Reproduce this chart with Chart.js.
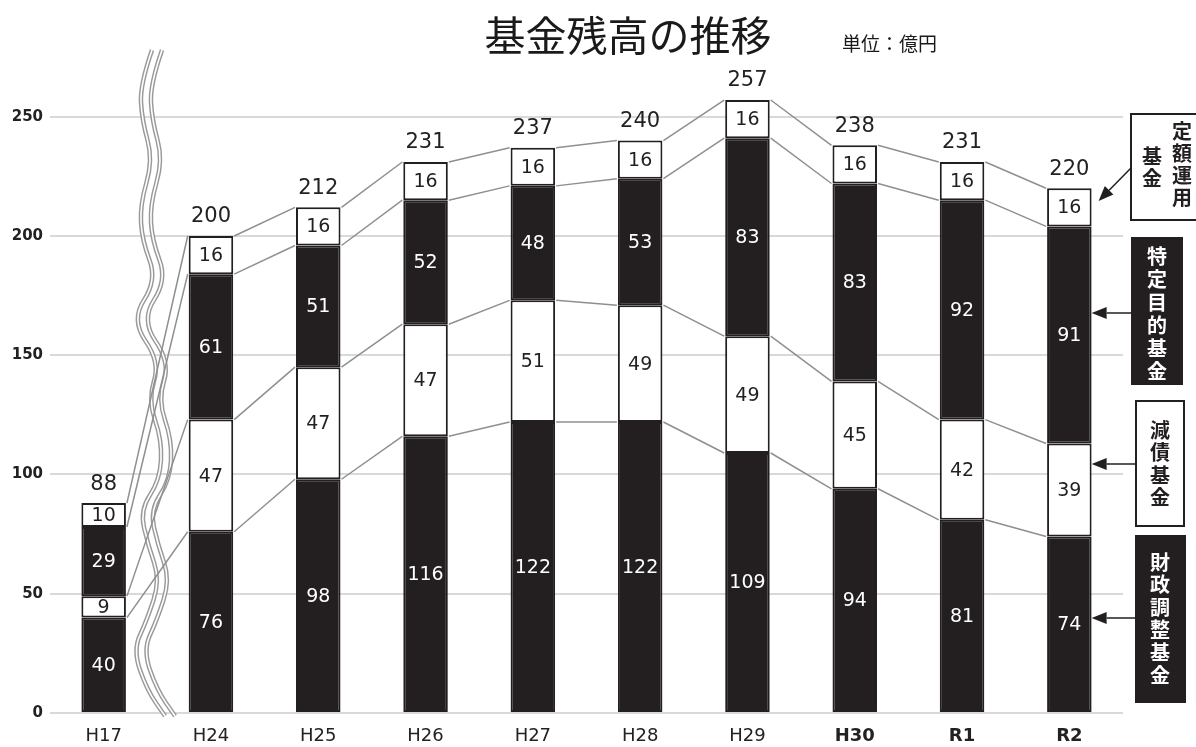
<!DOCTYPE html>
<html>
<head>
<meta charset="utf-8">
<script src="https://cdn.jsdelivr.net/npm/chart.js@4/dist/chart.umd.min.js"></script>
<style>
  html, body { margin: 0; padding: 0; background: #fff; }
  #wrap { width: 1196px; height: 747px; }
</style>
</head>
<body>
<div id="wrap"><canvas id="fundChart" width="1196" height="747"></canvas></div>
<script>
// 基金残高の推移 (単位：億円)
const categories = ['H17', 'H24', 'H25', 'H26', 'H27', 'H28', 'H29', 'H30', 'R1', 'R2'];
const zaiseiChosei = [40, 76, 98, 116, 122, 122, 109, 94, 81, 74];   // 財政調整基金
const gensai = [9, 47, 47, 47, 51, 49, 49, 45, 42, 39];               // 減債基金
const tokuteiMokuteki = [29, 61, 51, 52, 48, 53, 83, 83, 92, 91];     // 特定目的基金
const teigakuUnyo = [10, 16, 16, 16, 16, 16, 16, 16, 16, 16];         // 定額運用基金
const totals = [88, 200, 212, 231, 237, 240, 257, 238, 231, 220];
const seriesNames = ['財政調整基金', '減債基金', '特定目的基金', '定額運用基金'];
const yTicks = [0, 50, 100, 150, 200, 250];

const INK = '#231f20';
const LINE_GRAY = '#8f8f8f';
const NUM_FONT = '"DejaVu Sans", Verdana, sans-serif';
const JP_FONT = '"Noto Sans CJK JP", "Noto Sans", sans-serif';

// wavy break marks between H17 and H24 (decoration only)
const breakPath = [[152, 50], [140, 85], [142, 120], [153, 160], [140, 205], [142, 240], [157, 280],
  [131, 320], [160, 362], [148, 400], [162, 440], [160, 480], [140, 510], [148, 545], [160, 580],
  [147, 620], [133, 650], [147, 690], [165, 716]];

function smoothPath(ctx, pts, dx) {
  ctx.beginPath();
  ctx.moveTo(pts[0][0] + dx, pts[0][1]);
  for (let i = 1; i < pts.length - 1; i++) {
    const mx = (pts[i][0] + pts[i + 1][0]) / 2 + dx;
    const my = (pts[i][1] + pts[i + 1][1]) / 2;
    ctx.quadraticCurveTo(pts[i][0] + dx, pts[i][1], mx, my);
  }
  const last = pts[pts.length - 1];
  ctx.lineTo(last[0] + dx, last[1]);
}

function vText(ctx, text, x, y0, pitch, font, color) {
  ctx.save();
  ctx.font = font;
  ctx.fillStyle = color;
  ctx.textAlign = 'center';
  ctx.textBaseline = 'middle';
  for (let i = 0; i < text.length; i++) {
    ctx.fillText(text[i], x, y0 + i * pitch);
  }
  ctx.restore();
}

function arrow(ctx, x1, y1, x2, y2) {
  const a = Math.atan2(y2 - y1, x2 - x1);
  const len = 15, hw = 6;
  ctx.save();
  ctx.strokeStyle = INK;
  ctx.fillStyle = INK;
  ctx.lineWidth = 1.5;
  ctx.beginPath();
  ctx.moveTo(x1, y1);
  ctx.lineTo(x2 - Math.cos(a) * len, y2 - Math.sin(a) * len);
  ctx.stroke();
  ctx.beginPath();
  ctx.moveTo(x2, y2);
  ctx.lineTo(x2 - Math.cos(a) * len - Math.sin(a) * hw, y2 - Math.sin(a) * len + Math.cos(a) * hw);
  ctx.lineTo(x2 - Math.cos(a) * len + Math.sin(a) * hw, y2 - Math.sin(a) * len - Math.cos(a) * hw);
  ctx.closePath();
  ctx.fill();
  ctx.restore();
}

function box(ctx, x, y, w, h, dark) {
  ctx.save();
  ctx.fillStyle = dark ? INK : '#fff';
  ctx.fillRect(x, y, w, h);
  ctx.strokeStyle = INK;
  ctx.lineWidth = 2;
  ctx.strokeRect(x, y, w, h);
  ctx.restore();
}

const decoPlugin = {
  id: 'deco',
  beforeDatasetsDraw(chart) {
    const ctx = chart.ctx;
    // break marks
    ctx.save();
    [0, 10].forEach(dx => {
      smoothPath(ctx, breakPath, dx);
      ctx.strokeStyle = '#9a9a9a';
      ctx.lineWidth = 4.5;
      ctx.stroke();
      smoothPath(ctx, breakPath, dx);
      ctx.strokeStyle = '#fff';
      ctx.lineWidth = 1.6;
      ctx.stroke();
    });
    ctx.restore();
  },
  afterDatasetsDraw(chart) {
    const ctx = chart.ctx;
    // connecting lines between stack boundaries
    ctx.save();
    ctx.strokeStyle = LINE_GRAY;
    ctx.lineWidth = 1.5;
    for (let k = 0; k < 4; k++) {
      const els = chart.getDatasetMeta(k).data;
      for (let i = 0; i < els.length - 1; i++) {
        const a = els[i], b = els[i + 1];
        ctx.beginPath();
        ctx.moveTo(a.x + a.width / 2 + 1, a.y);
        ctx.lineTo(b.x - b.width / 2 - 1, b.y);
        ctx.stroke();
      }
    }
    ctx.restore();

    // segment values
    ctx.save();
    ctx.textAlign = 'center';
    ctx.textBaseline = 'middle';
    ctx.font = '19px ' + NUM_FONT;
    chart.data.datasets.forEach((ds, k) => {
      const els = chart.getDatasetMeta(k).data;
      els.forEach((el, i) => {
        ctx.fillStyle = (k % 2 === 0) ? '#fff' : INK;
        const cy = (el.y + el.base) / 2;
        ctx.fillText(String(ds.data[i]), el.x, cy + 1);
      });
    });
    // totals
    ctx.font = '21px ' + NUM_FONT;
    ctx.fillStyle = '#222';
    const tops = chart.getDatasetMeta(3).data;
    tops.forEach((el, i) => {
      ctx.fillText(String(totals[i]), el.x, el.y - 19);
    });
    ctx.restore();
  },
  afterDraw(chart) {
    const ctx = chart.ctx;
    ctx.save();
    ctx.fillStyle = '#1a1a1a';
    ctx.textBaseline = 'middle';
    ctx.textAlign = 'center';
    ctx.font = '400 41px ' + JP_FONT;
    ctx.fillText('基金残高の推移', 628, 35);
    ctx.textAlign = 'left';
    ctx.font = '19px ' + JP_FONT;
    ctx.fillText('単位：億円', 842, 44);
    ctx.restore();

    const last = chart.getDatasetMeta(0).data[categories.length - 1];
    const tipX = last.x + last.width / 2;
    const lf = 'bold 20px ' + JP_FONT;

    // 定額運用基金
    box(ctx, 1131, 114, 80, 106, false);
    vText(ctx, '定額運用', 1182, 131, 22, lf, INK);
    vText(ctx, '基金', 1152, 156, 22, lf, INK);
    arrow(ctx, 1131, 168, tipX + 7, 201);

    // 特定目的基金
    box(ctx, 1132, 238, 50, 146, true);
    vText(ctx, '特定目的基金', 1157, 256, 23, lf, '#fff');
    arrow(ctx, 1132, 313, tipX, 313);

    // 減債基金
    box(ctx, 1136, 401, 48, 125, false);
    vText(ctx, '減債基金', 1160, 430, 22.5, lf, INK);
    arrow(ctx, 1136, 464, tipX, 464);

    // 財政調整基金
    box(ctx, 1136, 536, 49, 166, true);
    vText(ctx, '財政調整基金', 1160, 562, 22.6, lf, '#fff');
    arrow(ctx, 1136, 618, tipX, 618);
  }
};

const fillColors = [INK, '#ffffff', INK, '#ffffff'];
const seriesData = [zaiseiChosei, gensai, tokuteiMokuteki, teigakuUnyo];

new Chart(document.getElementById('fundChart'), {
  type: 'bar',
  data: {
    labels: categories,
    datasets: seriesData.map((d, k) => ({
      label: seriesNames[k],
      data: d,
      backgroundColor: fillColors[k],
      borderColor: INK,
      borderWidth: 2,
      borderSkipped: false,
      barPercentage: 0.415,
      categoryPercentage: 1.0
    }))
  },
  options: {
    responsive: false,
    animation: false,
    devicePixelRatio: 1,
    layout: { padding: { left: 0, right: 73, top: 69, bottom: 0 } },
    plugins: {
      legend: { display: false },
      title: { display: false },
      tooltip: { enabled: false }
    },
    scales: {
      x: {
        stacked: true,
        grid: { display: false, drawTicks: false },
        border: { display: false },
        ticks: {
          padding: 13,
          color: '#222',
          font: (c) => ({ family: NUM_FONT, size: 18, weight: c.index >= 7 ? 'bold' : 'normal' })
        },
        afterFit: (s) => { s.height = 34; }
      },
      y: {
        stacked: true,
        min: 0,
        max: 270,
        grid: { color: '#d9d9d9', lineWidth: 2, drawTicks: false },
        border: { display: false },
        ticks: {
          stepSize: 50,
          padding: 7,
          color: '#222',
          font: { family: NUM_FONT, size: 15, weight: 'bold' }
        },
        afterBuildTicks: (s) => { s.ticks = yTicks.map(v => ({ value: v })); },
        afterFit: (s) => { s.width = 50; }
      }
    }
  },
  plugins: [decoPlugin]
});
</script>
</body>
</html>
